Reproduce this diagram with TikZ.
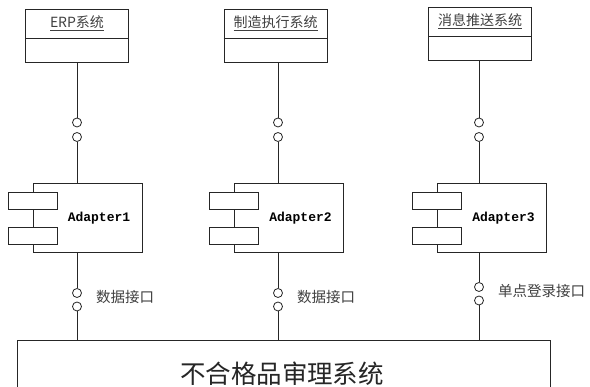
\documentclass[tikz,border=0pt]{standalone}
\usepackage{fontspec}
\newfontfamily\cjk{Noto Sans CJK SC}
\newfontfamily\monob{Liberation Mono}
\begin{document}
\begin{tikzpicture}[x=1pt,y=-1pt,
  line/.style={draw=black!85,line width=0.8pt},
  sysbox/.style={line,rectangle,minimum width=103pt,minimum height=53pt,inner sep=0pt},
  systext/.style={font=\cjk\fontsize{14}{16}\selectfont,text=black!75,inner sep=0pt},
  lolli/.style={line,circle,minimum size=9pt,inner sep=0pt,fill=white},
  comp/.style={line,rectangle,minimum width=109pt,minimum height=69pt,inner sep=0pt,fill=white},
  port/.style={line,rectangle,minimum width=49pt,minimum height=17pt,inner sep=0pt,fill=white},
  comptext/.style={font=\monob\bfseries\fontsize{13}{15}\selectfont,inner sep=0pt},
  ifacetext/.style={font=\cjk\fontsize{14.5}{16}\selectfont,text=black!75,inner sep=0pt,anchor=west},
  mainbox/.style={line,rectangle,minimum width=533pt,minimum height=56pt,inner sep=0pt},
  maintext/.style={font=\cjk\fontsize{25.5}{28}\selectfont,text=black!85,inner sep=0pt}
]
\useasboundingbox (0,0) rectangle (590,387);
\fill[white] (0,0) rectangle (590,387);

% top systems
\node[sysbox] (s1) at (77,35.5) {};
\node[systext] (s1t) at (77,23) {\underline{ERP系统}};
\draw[line] (s1.west |- 0,38) -- (s1.east |- 0,38);
\node[sysbox] (s2) at (275.5,35.5) {};
\node[systext] (s2t) at (275.5,23) {\underline{制造执行系统}};
\draw[line] (s2.west |- 0,38) -- (s2.east |- 0,38);
\node[sysbox] (s3) at (480,34) {};
\node[systext] (s3t) at (480,21.5) {\underline{消息推送系统}};
\draw[line] (s3.west |- 0,36) -- (s3.east |- 0,36);

% upper lollipops
\node[lolli] (u1a) at (77,122.5) {};
\node[lolli] (u1b) at (77,137) {};
\node[lolli] (u2a) at (278,122.5) {};
\node[lolli] (u2b) at (278,137) {};
\node[lolli] (u3a) at (479,122.5) {};
\node[lolli] (u3b) at (479,137) {};

% adapters
\node[comp] (a1) at (87.5,217.5) {};
\node[port] (a1p) at (32.5,200.5) {};
\node[port] (a1q) at (32.5,235.5) {};
\node[comptext] (a1t) at (99,218) {Adapter1};
\node[comp] (a2) at (289,217.5) {};
\node[port] (a2p) at (234,200.5) {};
\node[port] (a2q) at (234,235.5) {};
\node[comptext] (a2t) at (300.5,218) {Adapter2};
\node[comp] (a3) at (492,217.5) {};
\node[port] (a3p) at (437,200.5) {};
\node[port] (a3q) at (437,235.5) {};
\node[comptext] (a3t) at (503.5,218) {Adapter3};

% lower lollipops
\node[lolli] (d1a) at (77,293) {};
\node[lolli] (d1b) at (77,306.5) {};
\node[lolli] (d2a) at (278,293) {};
\node[lolli] (d2b) at (278,306.5) {};
\node[lolli] (d3a) at (479,287) {};
\node[lolli] (d3b) at (479,300.5) {};

\node[ifacetext] (l1) at (96,297) {数据接口};
\node[ifacetext] (l2) at (297,297) {数据接口};
\node[ifacetext] (l3) at (498,291) {单点登录接口};

% main system
\node[mainbox] (m) at (283.5,368) {};
\node[maintext] (mt) at (282,373.5) {不合格品审理系统};

% connectors
\draw[line] (s1.south -| u1a) -- (u1a.north);
\draw[line] (u1b.south) -- (u1b |- a1.north);
\draw[line] (s2.south -| u2a) -- (u2a.north);
\draw[line] (u2b.south) -- (u2b |- a2.north);
\draw[line] (s3.south -| u3a) -- (u3a.north);
\draw[line] (u3b.south) -- (u3b |- a3.north);

\draw[line] (d1a |- a1.south) -- (d1a.north);
\draw[line] (d1b.south) -- (d1b |- m.north);
\draw[line] (d2a |- a2.south) -- (d2a.north);
\draw[line] (d2b.south) -- (d2b |- m.north);
\draw[line] (d3a |- a3.south) -- (d3a.north);
\draw[line] (d3b.south) -- (d3b |- m.north);
\end{tikzpicture}
\end{document}
